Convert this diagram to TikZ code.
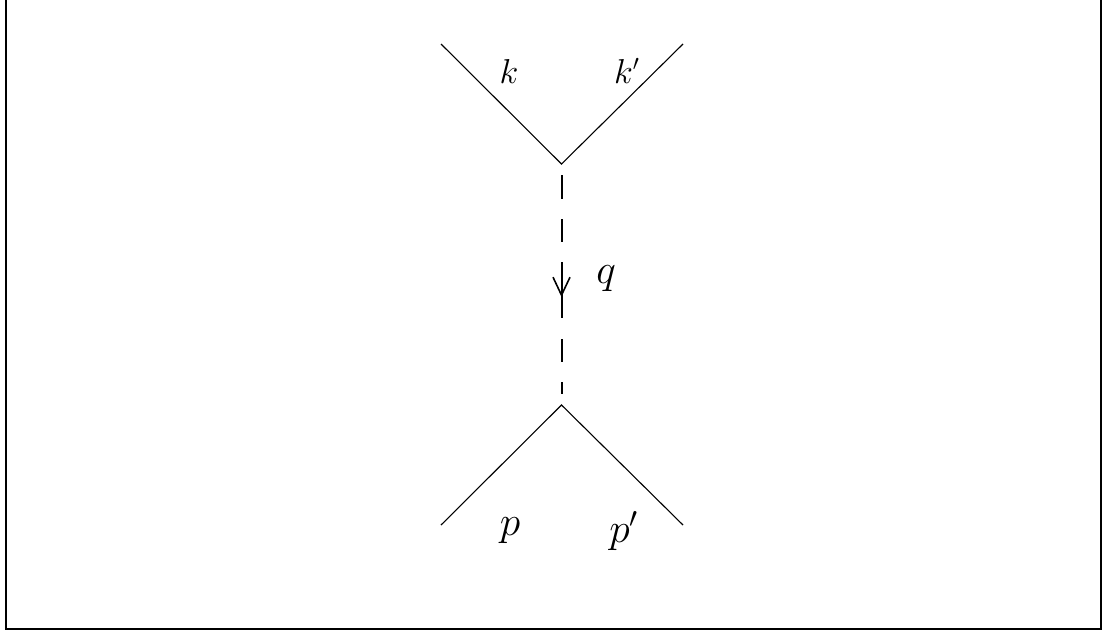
\documentclass[tikz,border=0pt]{standalone}
\usetikzlibrary{arrows.meta,decorations.markings}
\begin{document}
\begin{tikzpicture}[x=0.5pt,y=-0.5pt,
  leg/.style={line width=0.55pt},
  prop/.style={line width=1pt, dash pattern=on 12pt off 10pt on 11.5pt off 10pt on 28pt off 10.5pt on 11.5pt off 10pt on 6pt,
    shorten <=5.5pt, shorten >=5.5pt,
    postaction={decorate},
    decoration={markings, mark=at position 0.552 with {\arrow{Straight Barb[length=9pt,width=8.5pt,line width=0.8pt]}}}},
  lblsmall/.style={font=\fontsize{16}{18}\selectfont, inner sep=0pt},
  lblbig/.style={font=\fontsize{22}{24}\selectfont, inner sep=0pt},
  frame/.style={line width=1pt}]
\useasboundingbox (0,0) rectangle (1111,632);
\coordinate (f1) at (6,0);
\coordinate (f2) at (6,629);
\coordinate (f3) at (1101,629);
\coordinate (f4) at (1101,0);
\draw[frame] (f1) -- (f2) -- (f3) -- (f4);
% upper vertex
\coordinate (vt) at (561.5,164);
\coordinate (kin) at (441,44);
\coordinate (kout) at (683,44);
\draw[leg] (kin) -- (vt) -- (kout);
% lower vertex
\coordinate (vb) at (561.5,405);
\coordinate (pin) at (441,525);
\coordinate (pout) at (683,525);
\draw[leg] (pin) -- (vb) -- (pout);
% propagator
\draw[prop] (vt) -- (vb);
% labels
\node[lblsmall] (lk) at (509,71) {$k$};
\node[lblsmall] (lkp) at (627,71) {$k'$};
\node[lblbig] (lq) at (606,279) {$q$};
\node[lblbig] (lp) at (510,531) {$p$};
\node[lblbig] (lpp) at (624,531) {$p'$};
\end{tikzpicture}
\end{document}
